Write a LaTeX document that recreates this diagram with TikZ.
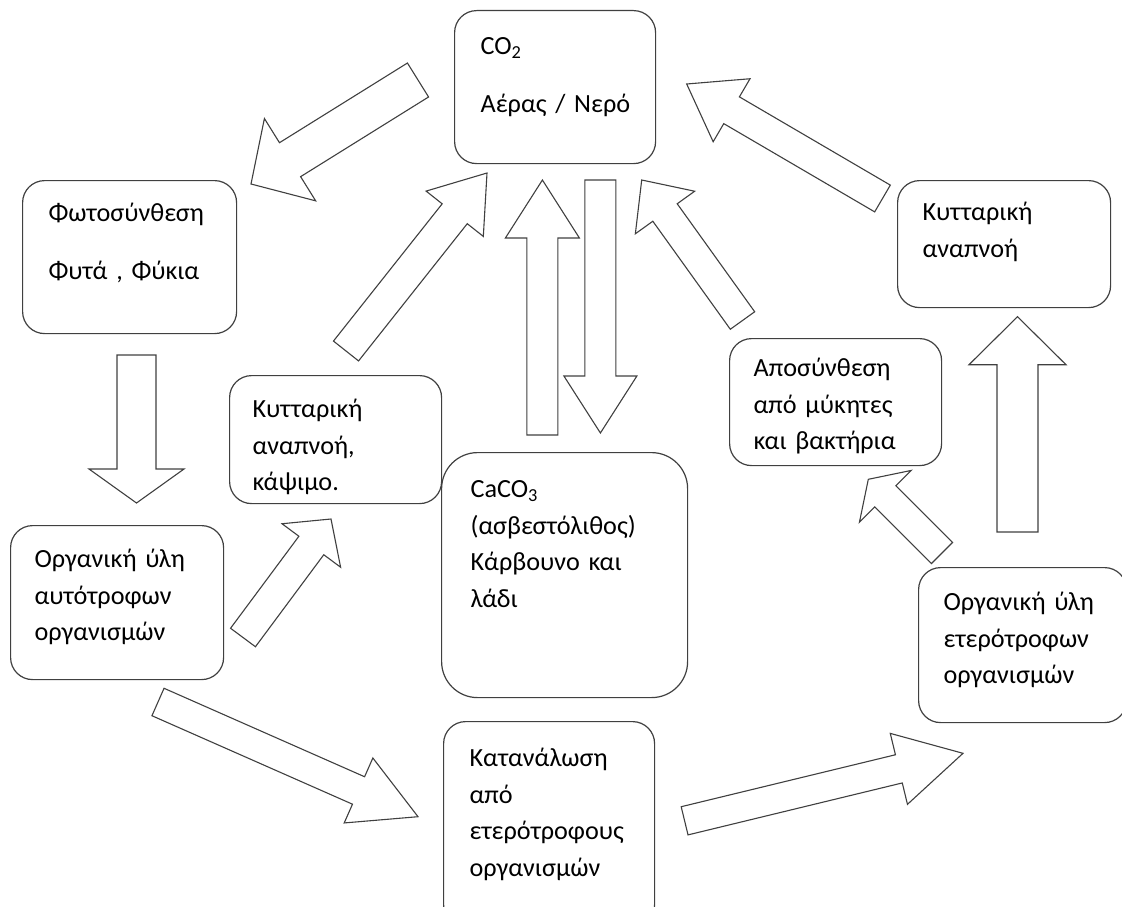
\documentclass[tikz,border=0pt]{standalone}
\usepackage{fontspec}
\setmainfont{Carlito}
\usetikzlibrary{calc}

% block arrow: tail, tip, shaft width, head width, head length (pt)
\newcommand{\blockarrow}[5]{%
  \coordinate (hb) at ($(#2)!#5*1pt!(#1)$);
  \draw[flow] ($(#1)!#3*0.5pt!90:(#2)$) -- ($(hb)!#3*0.5pt!90:(#2)$)
    -- ($(hb)!#4*0.5pt!90:(#2)$) -- (#2) -- ($(hb)!#4*0.5pt!-90:(#2)$)
    -- ($(hb)!#3*0.5pt!-90:(#2)$) -- ($(#1)!#3*0.5pt!-90:(#2)$) -- cycle;}
\newcommand{\stagefont}{\fontsize{26.2pt}{36.5pt}\selectfont\spaceskip=0.17em plus 0.05em\relax}

\tikzset{
  stage/.style={draw=black!75, line width=1.2pt, rounded corners=22pt, anchor=north west,
    align=left, inner ysep=0pt, font=\stagefont},
  flow/.style={draw=black!75, fill=white, line width=1.1pt, line join=miter}
}

\begin{document}
\begin{tikzpicture}[x=1pt, y=-1pt]
    \useasboundingbox (0,0) rectangle (1122,907);

    % Boxes
    \node[stage, inner xsep=26pt, text width=149pt, text height=44pt, text depth=109pt] (co2) at (454,10)
        {CO\textsubscript{2}\\[21.5pt]\mbox{Αέρας / Νερό}};
    \node[stage, inner xsep=26pt, text width=162pt, text height=41pt, text depth=112pt] (photo) at (22,180)
        {Φωτοσύνθεση\\[21.5pt]\mbox{Φυτά , Φύκια}};
    \node[stage, inner xsep=23pt, text width=166pt, text height=42pt, text depth=86pt] (resp) at (229,375)
        {Κυτταρική\\αναπνοή,\\κάψιμο.};
    \node[stage, rounded corners=36pt, inner xsep=29pt, text width=188pt, text height=45pt, text depth=200pt] (caco3) at (441,452)
        {CaCO\textsubscript{3}\\(ασβεστόλιθος)\\\mbox{Κάρβουνο και}\\λάδι};
    \node[stage, inner xsep=24pt, text width=165pt, text height=42pt, text depth=112pt] (auto) at (10,525)
        {\mbox{Οργανική ύλη}\\αυτότροφων\\οργανισμών};
    \node[stage, inner xsep=26pt, text width=159pt, text height=45pt, text depth=160pt] (consum) at (443,721)
        {Κατανάλωση\\από\\ετερότροφους\\οργανισμών};
    \node[stage, inner xsep=25pt, text width=158pt, text height=43pt, text depth=112pt] (hetero) at (918,567)
        {\mbox{Οργανική ύλη}\\ετερότροφων\\οργανισμών};
    \node[stage, inner xsep=25pt, text width=163pt, text height=40pt, text depth=87pt] (hresp) at (897,180)
        {Κυτταρική\\αναπνοή};
    \node[stage, inner xsep=24pt, text width=164pt, text height=38pt, text depth=89pt] (decomp) at (729,338)
        {Αποσύνθεση\\\mbox{από μύκητες}\\\mbox{και βακτήρια}};

    % Arrow ends
    \coordinate (fixT) at (418,80);       \coordinate (fixH) at (251,184);
    \coordinate (growT) at (136.5,355);   \coordinate (growH) at (136.5,503);
    \coordinate (burnT) at (243,637.5);   \coordinate (burnH) at (331,519);
    \coordinate (respT) at (346,351);     \coordinate (respH) at (487,173);
    \coordinate (relT) at (542.4,435);    \coordinate (relH) at (542.4,180);
    \coordinate (sinkT) at (600.4,180);   \coordinate (sinkH) at (600.4,433);
    \coordinate (rotT) at (742.5,320.5);  \coordinate (rotH) at (641.7,180);
    \coordinate (hrespT) at (882.5,198.5); \coordinate (hrespH) at (686.7,84);
    \coordinate (upT) at (1017.5,532);    \coordinate (upH) at (1017.5,316.7);
    \coordinate (decT) at (942,553);      \coordinate (decH) at (868.3,479.3);
    \coordinate (eatT) at (158,702);      \coordinate (eatH) at (418,816.7);
    \coordinate (feedT) at (684.6,820.8); \coordinate (feedH) at (963,753.3);

    % Block arrows
    \foreach \a/\b/\s/\w/\l in {fixT/fixH/40/97/46, growT/growH/39/95/34, burnT/burnH/31/73/33,
        respT/respH/32/73/52, relT/relH/31/74/58, sinkT/sinkH/31/73/57, rotT/rotH/30/73/40,
        hrespT/hrespH/31/73/52, upT/upH/41/97/48, decT/decH/30/73/24, eatT/eatH/30/71/65,
        feedT/feedH/29/73/66}
        {\blockarrow{\a}{\b}{\s}{\w}{\l}}
\end{tikzpicture}
\end{document}
